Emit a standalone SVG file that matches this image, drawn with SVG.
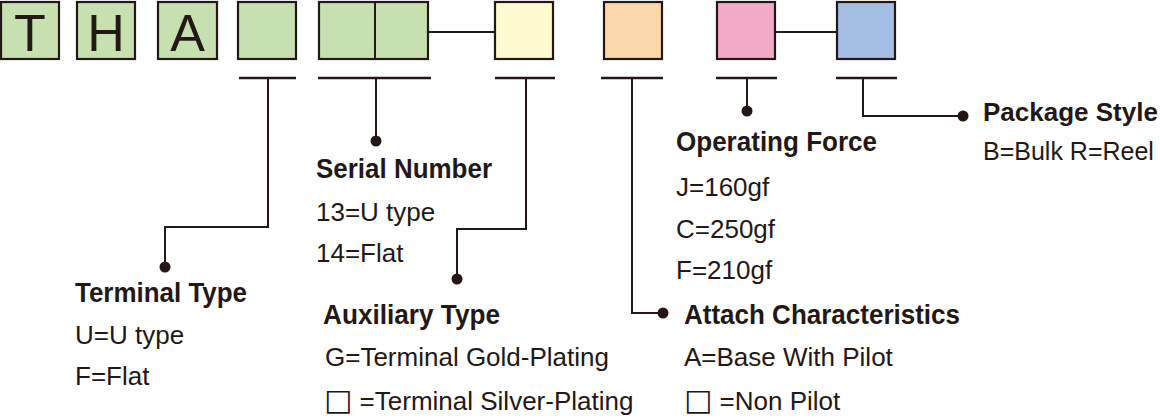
<svg xmlns="http://www.w3.org/2000/svg" width="1160" height="418" viewBox="0 0 1160 418">
<style>
.bx{stroke:#231815;stroke-width:2.2}
.g{fill:#c6e0b0}.y{fill:#fffbd0}.o{fill:#fad8aa}.p{fill:#f3aac9}.b{fill:#a3bde3}
.ln{fill:none;stroke:#231815;stroke-width:2}
.bar{fill:none;stroke:#231815;stroke-width:2.6}
.dot{fill:#231815}
.big{font-family:"Liberation Sans",Arial,sans-serif;font-size:52px;fill:#231815;text-anchor:middle}
.h{font-family:"Liberation Sans",Arial,sans-serif;font-size:27px;font-weight:bold;fill:#231815}
.t{font-family:"Liberation Sans",Arial,sans-serif;font-size:26px;fill:#231815}
.sq{font-family:"DejaVu Sans",sans-serif;font-size:30px}
</style>
<g id="box-T"><rect class="bx g" x="1" y="2" width="58" height="57"/><text class="big" x="30" y="51">T</text></g>
<g id="box-H"><rect class="bx g" x="77" y="2" width="58" height="57"/><text class="big" x="106" y="51">H</text></g>
<g id="box-A"><rect class="bx g" x="158" y="2" width="59" height="57"/><text class="big" x="187.5" y="51">A</text></g>
<g id="box-terminal"><rect class="bx g" x="238" y="2" width="58" height="57"/></g>
<g id="box-serial"><rect class="bx g" x="319" y="2" width="109" height="57"/><line class="ln" x1="375" y1="2" x2="375" y2="59" stroke-width="2.2"/></g>
<g id="box-aux"><rect class="bx y" x="495" y="2" width="58" height="57"/></g>
<g id="box-attach"><rect class="bx o" x="604" y="2" width="58" height="57"/></g>
<g id="box-force"><rect class="bx p" x="717" y="2" width="58" height="57"/></g>
<g id="box-package"><rect class="bx b" x="837" y="2" width="58" height="57"/></g>
<g id="connectors">
<line class="ln" x1="428" y1="32" x2="495" y2="32"/>
<line class="ln" x1="775" y1="32" x2="837" y2="32"/>
<line class="bar" x1="239" y1="78" x2="296" y2="78"/>
<line class="bar" x1="318" y1="78" x2="431" y2="78"/>
<line class="bar" x1="495" y1="78" x2="555" y2="78"/>
<line class="bar" x1="601" y1="78" x2="663" y2="78"/>
<line class="bar" x1="716" y1="78" x2="777" y2="78"/>
<line class="bar" x1="836" y1="78" x2="897" y2="78"/>
<polyline class="ln" points="268,78 268,227 165,227 165,267"/>
<circle class="dot" cx="165" cy="267" r="5.5"/>
<polyline class="ln" points="376,78 376,141"/>
<circle class="dot" cx="376" cy="141" r="5.5"/>
<polyline class="ln" points="526,78 526,229 457,229 457,279"/>
<circle class="dot" cx="457" cy="279" r="5.5"/>
<polyline class="ln" points="632,78 632,313 663,313"/>
<circle class="dot" cx="663" cy="313" r="5.5"/>
<polyline class="ln" points="747,78 747,111"/>
<circle class="dot" cx="747" cy="111" r="5.5"/>
<polyline class="ln" points="863,78 863,116 963,116"/>
<circle class="dot" cx="963" cy="116" r="5.5"/>
</g>
<g id="label-terminal">
<text class="h" x="75" y="302" textLength="172" lengthAdjust="spacingAndGlyphs">Terminal Type</text>
<text class="t" x="75" y="344">U=U type</text>
<text class="t" x="75" y="385">F=Flat</text>
</g>
<g id="label-serial">
<text class="h" x="316" y="178" textLength="176" lengthAdjust="spacingAndGlyphs">Serial Number</text>
<text class="t" x="316" y="221">13=U type</text>
<text class="t" x="316" y="262">14=Flat</text>
</g>
<g id="label-aux">
<text class="h" x="323" y="324" textLength="177" lengthAdjust="spacingAndGlyphs">Auxiliary Type</text>
<text class="t" x="325" y="366">G=Terminal Gold-Plating</text>
<text class="t" x="324" y="410"><tspan class="sq">□</tspan> =Terminal Silver-Plating</text>
</g>
<g id="label-force">
<text class="h" x="676" y="151" textLength="201" lengthAdjust="spacingAndGlyphs">Operating Force</text>
<text class="t" x="676" y="196">J=160gf</text>
<text class="t" x="676" y="238">C=250gf</text>
<text class="t" x="676" y="279">F=210gf</text>
</g>
<g id="label-attach">
<text class="h" x="684" y="324" textLength="276" lengthAdjust="spacingAndGlyphs">Attach Characteristics</text>
<text class="t" x="684" y="366">A=Base With Pilot</text>
<text class="t" x="684" y="410"><tspan class="sq">□</tspan> =Non Pilot</text>
</g>
<g id="label-package">
<text class="h" x="983" y="121" style="font-size:26px">Package Style</text>
<text class="t" x="983" y="160" style="font-size:25px">B=Bulk R=Reel</text>
</g>
</svg>
